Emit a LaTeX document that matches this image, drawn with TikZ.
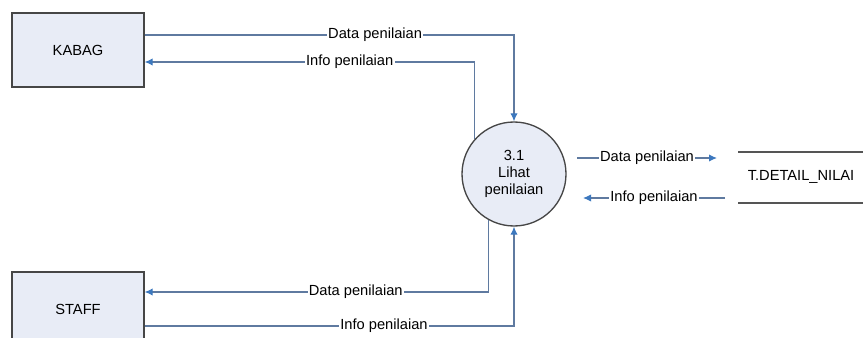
\documentclass[tikz,border=0pt]{standalone}
\usepackage{fontspec}
\setmainfont{Liberation Sans}
\usetikzlibrary{arrows.meta,calc}
\definecolor{flowc}{RGB}{95,122,160}
\definecolor{tipc}{RGB}{60,120,190}
\definecolor{boxfill}{RGB}{232,236,246}
\definecolor{edgec}{RGB}{70,70,70}
\definecolor{storec}{RGB}{85,85,85}
\begin{document}
\begin{tikzpicture}[x=0.75pt,y=-0.75pt,
  font=\fontsize{11}{13}\selectfont,
  entity/.style={draw=edgec,fill=boxfill,line width=1pt,minimum width=99pt,minimum height=55.5pt,inner sep=0pt},
  proc/.style={circle,draw=edgec,fill=boxfill,line width=1pt,minimum size=78pt,inner sep=0pt,align=center},
  flow/.style={draw=flowc,line width=0.85pt},
  tip/.style={-{Latex[length=6pt,width=5.5pt,color=tipc]}},
  lbl/.style={fill=white,inner sep=1pt},
  storeline/.style={draw=storec,line width=1.2pt}]
\useasboundingbox (0,0) rectangle (863,338);

% external entities and the process
\node[entity] (kabag) at (78,50) {KABAG};
\node[entity] (staff) at (78,309) {STAFF};
\node[proc] (p) at (514,174) {3.1\\Lihat\\penilaian};

% data store
\node (ds) at (801,177) {T.DETAIL\_NILAI};
\coordinate (s1a) at (738,152);
\coordinate (s1b) at (863,152);
\coordinate (s2a) at (738,203);
\coordinate (s2b) at (863,203);
\draw[storeline] (s1a) -- (s1b);
\draw[storeline] (s2a) -- (s2b);

% flows between KABAG and the process
\draw[flow,tip] ($(kabag.east)+(0,-15)$) -| node[lbl,pos=0.312] {Data penilaian} (p.north);
\draw[flow,tip] (p.139) |- node[lbl,pos=0.689] {Info penilaian} ($(kabag.east)+(0,12)$);

% flows between STAFF and the process
\draw[flow,tip] (p.241) |- node[lbl,pos=0.693] {Data penilaian} ($(staff.east)+(0,-17)$);
\draw[flow,tip] ($(staff.east)+(0,17)$) -| node[lbl,pos=0.324] {Info penilaian} (p.south);

% flows to and from the data store
\coordinate (d0) at (577,158);
\coordinate (d1) at (717,158);
\coordinate (i0) at (725,198);
\coordinate (i1) at (583,198);
\draw[flow,tip] (d0) -- node[lbl] {Data penilaian} (d1);
\draw[flow,tip] (i0) -- node[lbl] {Info penilaian} (i1);
\end{tikzpicture}
\end{document}
